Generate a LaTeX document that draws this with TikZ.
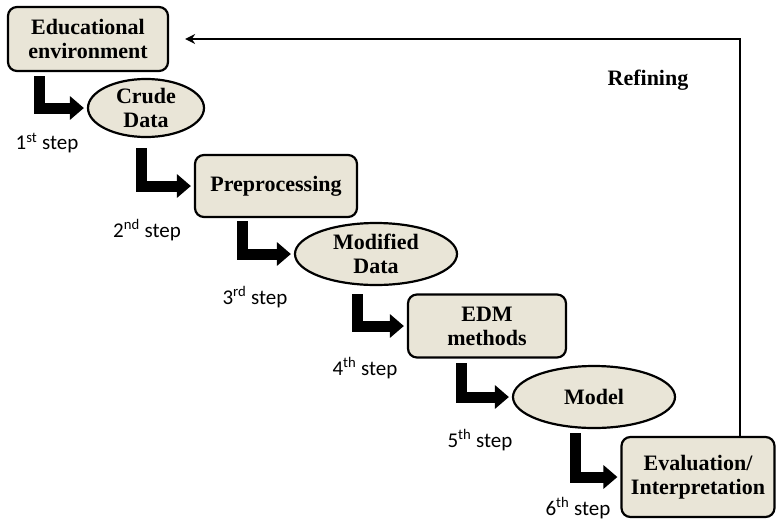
\documentclass[tikz,border=0pt]{standalone}
\usepackage{fontspec}
\setmainfont{Liberation Serif}
\newfontfamily\stepfont{Carlito}
\usetikzlibrary{shapes.geometric,arrows.meta}
\definecolor{boxfill}{RGB}{233,229,215}
\tikzset{
  stagebox/.style={draw, line width=2.2pt, rounded corners=9pt, fill=boxfill, align=center,
    font=\fontsize{22}{24}\selectfont\bfseries, inner sep=0pt},
  stageoval/.style={draw, ellipse, line width=2.2pt, fill=boxfill, align=center,
    font=\fontsize{22}{24}\selectfont\bfseries, inner sep=0pt},
  steparrow/.style={line width=11pt, line join=miter, shorten >=3pt,
    -{Triangle[length=14pt,width=23pt]}},
  steplabel/.style={font=\stepfont\fontsize{21}{22}\selectfont},
  refine/.style={line width=2pt, -{Stealth[length=10pt,width=10pt]}}
}
\begin{document}
\begin{tikzpicture}[x=1pt,y=-1pt]
\useasboundingbox (0,0) rectangle (777,523);
% stages
\node[stagebox, minimum width=160, minimum height=64] (edu) at (88,39) {Educational\\environment};
\node[stageoval, minimum width=116, minimum height=58] (crude) at (146,108) {Crude\\Data};
\node[stagebox, minimum width=162, minimum height=62] (prep) at (276,186) {Preprocessing};
\node[stageoval, minimum width=162, minimum height=62] (mod) at (376,254) {Modified\\Data};
\node[stagebox, minimum width=158, minimum height=63] (edm) at (487,326) {EDM\\methods};
\node[stageoval, minimum width=162, minimum height=62] (model) at (594,397) {Model};
\node[stagebox, minimum width=153, minimum height=80] (eval) at (698,477) {Evaluation/\\Interpretation};
% start points of the step arrows
\coordinate (s1) at (39,76);
\coordinate (s2) at (141,148);
\coordinate (s3) at (242,221);
\coordinate (s4) at (357,294);
\coordinate (s5) at (461,363);
\coordinate (s6) at (575,433);
\draw[steparrow] (s1) |- (crude.west);
\draw[steparrow] (s2) |- (prep.west);
\draw[steparrow] (s3) |- (mod.west);
\draw[steparrow] (s4) |- (edm.west);
\draw[steparrow] (s5) |- (model.west);
\draw[steparrow] (s6) |- (eval.west);
% step labels
\node[steplabel] (l1) at (47,143) {1\textsuperscript{st} step};
\node[steplabel] (l2) at (147,230) {2\textsuperscript{nd} step};
\node[steplabel] (l3) at (255,297) {3\textsuperscript{rd} step};
\node[steplabel] (l4) at (365,368) {4\textsuperscript{th} step};
\node[steplabel] (l5) at (480,440) {5\textsuperscript{th} step};
\node[steplabel] (l6) at (578,508) {6\textsuperscript{th} step};
% feedback loop
\draw[refine, shorten >=16pt] ([xshift=42]eval.north) |- (edu.east);
\node[font=\fontsize{22}{24}\selectfont\bfseries] (ref) at (648,80) {Refining};
\end{tikzpicture}
\end{document}
